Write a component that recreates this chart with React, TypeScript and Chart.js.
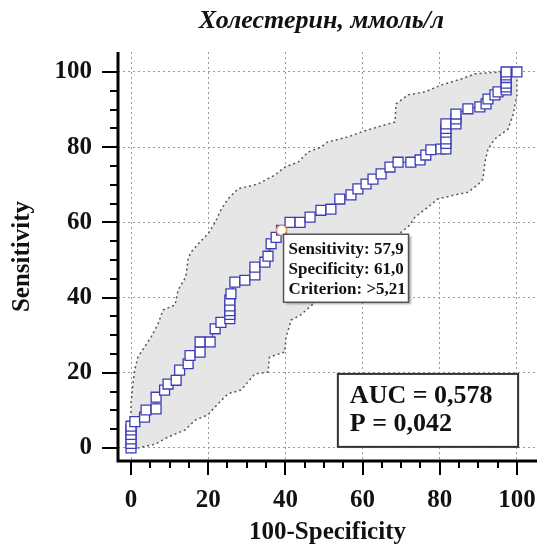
import React, { useEffect, useRef } from 'react';
import { Chart, registerables } from 'chart.js';

Chart.register(...registerables);

// ---------------- data ----------------
const chartTitle = 'Холестерин, ммоль/л';
const xAxisTitle = '100-Specificity';
const yAxisTitle = 'Sensitivity';

const tickValues = [0, 5, 10, 15, 20, 25, 30, 35, 40, 45, 50, 55, 60, 65, 70, 75, 80, 85, 90, 95, 100];
const labelledTicks = [0, 20, 40, 60, 80, 100];

// ROC curve (100-Specificity, Sensitivity)
const rocX = [0, 0, 0, 0, 0, 0, 1, 3.5, 3.9, 6.5, 6.5, 8.7, 9.6, 11.7, 12.6, 14.8, 15.3, 17.9, 17.9, 20.5, 21.8, 23.3, 25.6, 25.6, 25.6, 25.6, 25.6, 25.9, 26.9, 29.5, 32.1, 32.1, 34.7, 35.5, 36.3, 37.6, 39.0, 41.2, 43.8, 46.4, 49.2, 51.8, 54.1, 57.0, 58.8, 60.9, 62.7, 64.8, 67.1, 69.2, 72.5, 74.9, 76.4, 77.7, 80.3, 81.6, 81.6, 81.6, 81.6, 81.6, 81.6, 84.2, 84.2, 84.2, 87.3, 90.4, 92.0, 92.5, 94.3, 95.1, 97.2, 97.2, 97.2, 97.2, 97.2, 97.2, 100];
const rocY = [0, 1.2, 2.4, 3.6, 4.8, 5.8, 7, 8.2, 10.1, 10.4, 13.5, 15.4, 17, 18, 20.7, 22.4, 24.6, 25.5, 28.2, 28.2, 31.7, 33.4, 34.4, 35.5, 36.5, 37.8, 39.3, 41, 44.1, 44.6, 46, 48.1, 49.4, 51, 54.3, 56, 57.9, 60, 60, 61.4, 63.2, 63.5, 66.2, 67.3, 68.9, 70.2, 71.5, 72.9, 74.7, 76, 76, 76.6, 77.9, 79.3, 79.5, 79.5, 81, 82.2, 84, 85, 86.2, 86.2, 87.5, 88.8, 90.2, 90.7, 91.5, 92.8, 93.9, 94.7, 95.2, 96, 97, 98.5, 99.2, 100, 100];

// 95% confidence band boundaries
const upperX = [0, 0, 0.5, 1, 1.8, 5.2, 7, 8.3, 11.4, 12.2, 14.2, 14.8, 15.5, 17.9, 20, 21.8, 23.3, 25.1, 27.7, 32.9, 37.3, 39.9, 43.3, 45.9, 49.2, 51, 56.2, 59.6, 64, 68.4, 68.7, 71.8, 76.2, 80.3, 85.5, 89.1, 95.9, 100];
const upperY = [0, 12, 17, 21, 24.2, 29.5, 33, 36.7, 38, 42, 45.5, 50.3, 52, 54.8, 57, 60, 63.3, 66.2, 68.9, 70.2, 72.6, 74.7, 76, 78.7, 80, 81.4, 82.7, 84, 85.4, 86.7, 91.5, 93.9, 94.7, 96.5, 98.1, 99.5, 100, 100];
const lowerX = [0, 1.8, 6.2, 9.6, 14, 16.6, 19.9, 22.5, 25.1, 28.5, 32.1, 35.5, 35.9, 39.8, 40.2, 41.5, 44, 47.2, 72.3, 73.6, 76.9, 79.5, 83.9, 87.3, 89.9, 91.2, 91.7, 92.5, 94.3, 97.7, 99, 100, 100, 100];
const lowerY = [0, 0, 1, 2.9, 4.8, 7.4, 8.8, 11.7, 14.4, 15.4, 19.7, 20.2, 24.2, 25.5, 29.5, 34, 35.4, 38.3, 59.3, 61.4, 64, 66.2, 67.3, 68, 70, 71.5, 76, 79.5, 82.2, 84.8, 88.6, 93.9, 98, 100];

// optimal criterion point
const optX = [39.0];
const optY = [57.9];
const optSpecificity = [61.0];
const optCriterion = ['>5,21'];

const aucValue = 0.578;
const pValue = 0.042;

// ---------------- styling ----------------
const FONT = "'Liberation Serif', 'Times New Roman', Times, serif";
const fmt = (v: number, d: number) => v.toFixed(d).replace('.', ',');

const decorPlugin = {
  id: 'decor',
  afterDatasetsDraw(chart: any) {
    const { ctx, chartArea, scales } = chart;
    const xs = scales.x;
    const ys = scales.y;
    ctx.save();

    // criterion tooltip box
    const px = xs.getPixelForValue(optX[0]);
    const py = ys.getPixelForValue(optY[0]);
    const bx = px + 2, by = py + 4, bw = 125, bh = 68;
    ctx.save();
    ctx.shadowColor = 'rgba(0,0,0,0.35)';
    ctx.shadowOffsetX = 2;
    ctx.shadowOffsetY = 2;
    ctx.shadowBlur = 2;
    ctx.fillStyle = '#ffffff';
    ctx.fillRect(bx, by, bw, bh);
    ctx.restore();
    ctx.strokeStyle = '#555555';
    ctx.lineWidth = 1.5;
    ctx.strokeRect(bx, by, bw, bh);
    ctx.fillStyle = '#111111';
    ctx.font = `bold 17px ${FONT}`;
    ctx.textBaseline = 'middle';
    ctx.textAlign = 'left';
    ctx.fillText(`Sensitivity: ${fmt(optY[0], 1)}`, bx + 5, by + 15);
    ctx.fillText(`Specificity: ${fmt(optSpecificity[0], 1)}`, bx + 5, by + 35);
    ctx.fillText(`Criterion: ${optCriterion[0]}`, bx + 5, by + 55);

    // AUC box
    const ax1 = xs.getPixelForValue(53.6);
    const ax2 = xs.getPixelForValue(100.3);
    const ay1 = ys.getPixelForValue(19.7);
    const ay2 = ys.getPixelForValue(0.3);
    ctx.save();
    ctx.shadowColor = 'rgba(0,0,0,0.3)';
    ctx.shadowOffsetX = 1;
    ctx.shadowOffsetY = 1;
    ctx.shadowBlur = 1;
    ctx.fillStyle = '#ffffff';
    ctx.fillRect(ax1, ay1, ax2 - ax1, ay2 - ay1);
    ctx.restore();
    ctx.strokeStyle = '#333333';
    ctx.lineWidth = 2;
    ctx.strokeRect(ax1, ay1, ax2 - ax1, ay2 - ay1);
    ctx.fillStyle = '#111111';
    ctx.font = `bold 26px ${FONT}`;
    ctx.fillText(`AUC = ${fmt(aucValue, 3)}`, ax1 + 12, ay1 + 22);
    ctx.fillText(`P = ${fmt(pValue, 3)}`, ax1 + 12, ay1 + 50);

    // axis lines
    ctx.strokeStyle = '#000000';
    ctx.lineWidth = 3;
    ctx.beginPath();
    ctx.moveTo(chartArea.left, chartArea.top);
    ctx.lineTo(chartArea.left, chartArea.bottom);
    ctx.lineTo(chartArea.right, chartArea.bottom);
    ctx.stroke();

    // tick marks
    ctx.lineWidth = 2;
    ctx.beginPath();
    for (const v of tickValues) {
      const major = labelledTicks.includes(v);
      const yy = Math.round(ys.getPixelForValue(v));
      ctx.moveTo(chartArea.left - (major ? 16 : 8), yy);
      ctx.lineTo(chartArea.left, yy);
      const xx = Math.round(xs.getPixelForValue(v));
      ctx.moveTo(xx, chartArea.bottom);
      ctx.lineTo(xx, chartArea.bottom + (major ? 14 : 7));
    }
    ctx.stroke();

    // title
    ctx.fillStyle = '#111111';
    ctx.font = `italic bold 26px ${FONT}`;
    ctx.textAlign = 'center';
    ctx.textBaseline = 'alphabetic';
    ctx.fillText(chartTitle, (chartArea.left + chartArea.right) / 2 - 6, 28);
    ctx.restore();
  },
};

export default function App() {
  const ref = useRef<HTMLCanvasElement>(null);

  useEffect(() => {
    if (!ref.current) return;
    const band = [
      ...upperX.map((x, i) => ({ x, y: upperY[i] })),
      ...lowerX.map((x, i) => ({ x, y: lowerY[i] })).reverse(),
    ];
    const roc = rocX.map((x, i) => ({ x, y: rocY[i] }));
    const opt = optX.map((x, i) => ({ x, y: optY[i] }));

    const tickFont = { family: FONT, size: 25, weight: 'bold' as const };

    const chart = new Chart(ref.current, {
      type: 'scatter',
      data: {
        datasets: [
          {
            data: opt,
            order: 1,
            pointStyle: 'circle',
            pointRadius: 5,
            borderColor: '#f19a5a',
            backgroundColor: '#ffffff',
            borderWidth: 1.5,
            showLine: false,
          },
          {
            data: roc,
            order: 2,
            showLine: true,
            borderColor: '#3a3aa8',
            borderWidth: 1,
            pointStyle: 'rect',
            pointRadius: 7,
            pointBorderColor: '#3c3cb4',
            pointBackgroundColor: '#ffffff',
            pointBorderWidth: 1.3,
          },
          {
            data: band,
            order: 3,
            showLine: true,
            fill: 'shape',
            backgroundColor: '#e6e6e6',
            borderColor: '#555555',
            borderWidth: 1.5,
            borderDash: [2, 3],
            pointRadius: 0,
          },
        ],
      },
      options: {
        responsive: false,
        animation: false,
        layout: { autoPadding: false, padding: { top: 52, right: 2, left: 0, bottom: 0 } },
        plugins: {
          legend: { display: false },
          tooltip: { enabled: false },
          title: { display: false },
        },
        scales: {
          x: {
            type: 'linear',
            min: -3.37,
            max: 105.2,
            afterBuildTicks: (s: any) => { s.ticks = tickValues.map((v) => ({ value: v })); },
            afterFit: (s: any) => { s.height = 87; s.paddingRight = 0; s.paddingLeft = 0; },
            ticks: {
              autoSkip: false,
              maxRotation: 0,
              padding: 25,
              color: '#111111',
              font: tickFont,
              callback: (v: any) => (labelledTicks.includes(Number(v)) ? String(v) : ''),
            },
            grid: {
              drawTicks: false,
              lineWidth: 1,
              color: (c: any) => (c.tick && labelledTicks.includes(c.tick.value) ? '#9a9a9a' : 'rgba(0,0,0,0)'),
            },
            border: { display: false, dash: [2, 3] },
            title: {
              display: true,
              text: xAxisTitle,
              color: '#111111',
              font: tickFont,
              padding: { top: 0, bottom: 0 },
            },
          },
          y: {
            type: 'linear',
            min: -3.46,
            max: 105.3,
            afterBuildTicks: (s: any) => { s.ticks = tickValues.map((v) => ({ value: v })); },
            afterFit: (s: any) => { s.width = 118; },
            ticks: {
              autoSkip: false,
              padding: 26,
              color: '#111111',
              font: tickFont,
              callback: (v: any) => (labelledTicks.includes(Number(v)) ? String(v) : ''),
            },
            grid: {
              drawTicks: false,
              lineWidth: 1,
              color: (c: any) => (c.tick && labelledTicks.includes(c.tick.value) ? '#9a9a9a' : 'rgba(0,0,0,0)'),
            },
            border: { display: false, dash: [2, 3] },
            title: {
              display: true,
              text: yAxisTitle,
              color: '#111111',
              font: tickFont,
              padding: { top: 8, bottom: 0 },
            },
          },
        },
      },
      plugins: [decorPlugin],
    });
    return () => chart.destroy();
  }, []);

  return (
    <div style={{ position: 'absolute', left: 0, top: 0, width: 539, height: 548, background: '#ffffff' }}>
      <canvas ref={ref} width={539} height={548} style={{ width: 539, height: 548, display: 'block' }} />
    </div>
  );
}
